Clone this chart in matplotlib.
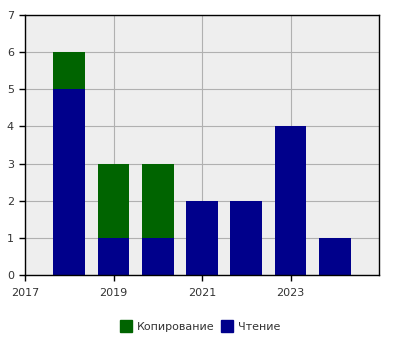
import matplotlib
matplotlib.use("Agg")
import matplotlib.pyplot as plt
from matplotlib.patches import Patch

years = [2018, 2019, 2020, 2021, 2022, 2023, 2024]
reading = [5, 1, 1, 2, 2, 4, 1]
copying = [1, 2, 2, 0, 0, 0, 0]
xticks = [2017, 2019, 2021, 2023]
labels = ["Копирование", "Чтение"]
colors = ["#006400", "#00008b"]

plt.rcParams['font.family'] = ['DejaVu Sans']
fig = plt.figure(figsize=(4, 3.5), dpi=100)
W, H = 400, 350
ax = fig.add_axes([25 / W, 1 - 275 / H, (379 - 25) / W, (275 - 15) / H])
ax.set_facecolor("#eeeeee")
ax.bar(years, reading, width=0.72, color=colors[1], zorder=2)
ax.bar(years, copying, width=0.72, bottom=reading, color=colors[0], zorder=2)
ax.set_xlim(2017, 2025)
ax.set_ylim(0, 7)
ax.set_xticks(xticks)
ax.set_xticklabels([str(t) for t in xticks])
ax.set_yticks(range(0, 8))
ax.grid(True, color="#b0b0b0", linewidth=0.8, zorder=1)
ax.set_axisbelow(True)
ax.tick_params(labelsize=8, color="black", length=4.5, width=1, labelcolor="#333333")
ax.tick_params(axis="x", pad=5)
for s in ax.spines.values():
    s.set_linewidth(1)
    s.set_color("black")

handles = [Patch(color=colors[0]), Patch(color=colors[1])]
fig.legend(handles, labels, loc="center", bbox_to_anchor=(0.5, 1 - 326 / H), ncol=2,
           frameon=False, fontsize=8, handlelength=1.1, handleheight=1.2,
           handletextpad=0.4, columnspacing=0.6, labelcolor="#333333")
fig.savefig("out.png", dpi=100)
